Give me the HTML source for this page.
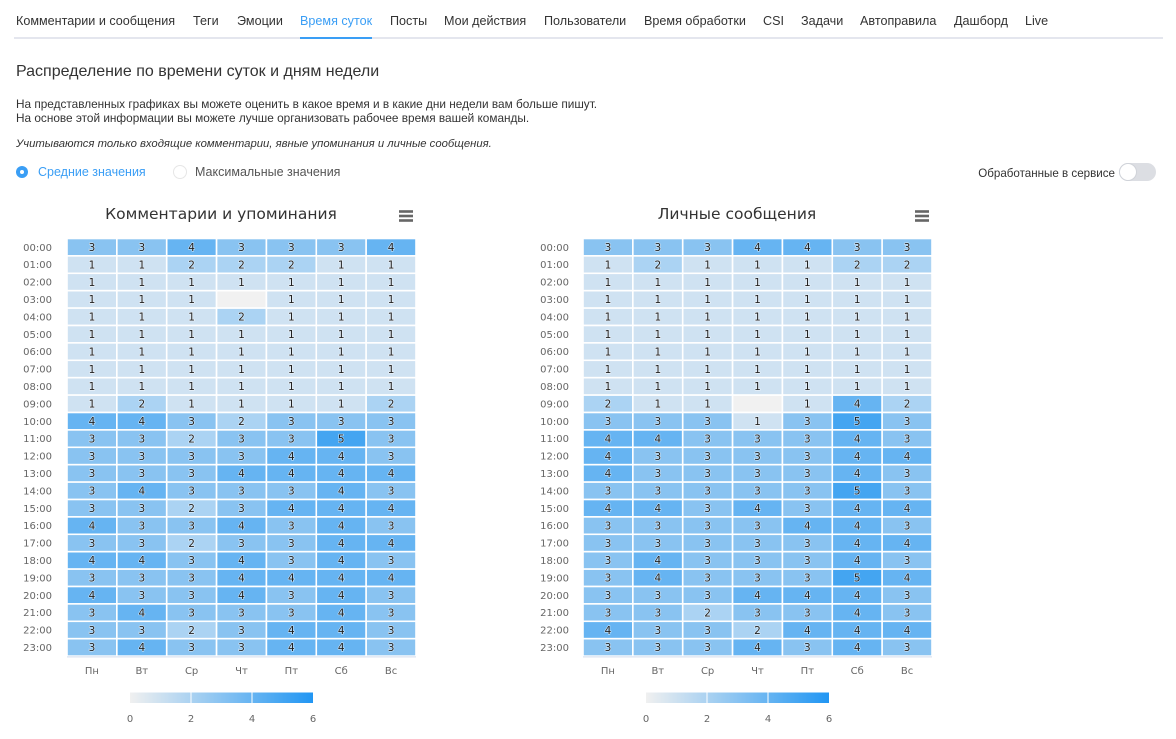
<!DOCTYPE html>
<html><head><meta charset="utf-8">
<style>
html,body{margin:0;padding:0;background:#fff;}
body{width:1176px;height:739px;position:relative;overflow:hidden;font-family:"Liberation Sans","Noto Sans CJK JP",sans-serif;color:#333;}
.n{position:absolute;top:13px;font-size:12.6px;line-height:16px;color:#333;white-space:nowrap;}
.n.a{color:#3a9ef5;}
.abs{position:absolute;white-space:nowrap;}
svg{position:absolute;left:0;top:0;}
.g rect{width:49.86px;height:17.4px;stroke:#fff;stroke-width:1.6px;}
.c1{fill:#cfe2f2}.c2{fill:#abd3f3}.c3{fill:#89c3f1}.c4{fill:#66b4f2}.c5{fill:#44a5f1}.cn{fill:#f1f1f1}
.v{font-family:"DejaVu Sans",sans-serif;font-size:10.5px;fill:#222;text-anchor:middle;stroke:#fff;stroke-width:1.2px;paint-order:stroke;stroke-opacity:.6;white-space:pre;}
.yl{font-family:"DejaVu Sans",sans-serif;font-size:10px;fill:#666;text-anchor:end;}
.xl{font-family:"DejaVu Sans",sans-serif;font-size:10px;fill:#666;text-anchor:middle;}
.tt{font-family:"DejaVu Sans",sans-serif;font-size:15.5px;fill:#333;text-anchor:middle;}
</style></head><body>
<div class="n" style="left:16px">Комментарии и сообщения</div>
<div class="n" style="left:193px">Теги</div>
<div class="n" style="left:237px">Эмоции</div>
<div class="n a" style="left:300px">Время суток</div>
<div class="n" style="left:390px">Посты</div>
<div class="n" style="left:444px">Мои действия</div>
<div class="n" style="left:544px">Пользователи</div>
<div class="n" style="left:644px">Время обработки</div>
<div class="n" style="left:763px">CSI</div>
<div class="n" style="left:801px">Задачи</div>
<div class="n" style="left:860px">Автоправила</div>
<div class="n" style="left:954px">Дашборд</div>
<div class="n" style="left:1025px">Live</div>
<div class="abs" style="left:14px;top:37px;width:1149px;height:2px;background:#e4e6ee"></div>
<div class="abs" style="left:300px;top:37px;width:72px;height:2px;background:#3a9ef5"></div>

<div class="abs" style="left:16px;top:62px;font-size:16px;line-height:20px;color:#333">Распределение по времени суток и дням недели</div>
<div class="abs" style="left:16px;top:97px;font-size:11.8px;line-height:14px;color:#333">На представленных графиках вы можете оценить в какое время и в какие дни недели вам больше пишут.<br>На основе этой информации вы можете лучше организовать рабочее время вашей команды.</div>
<div class="abs" style="left:16px;top:137px;font-size:11.3px;line-height:14px;color:#333;font-style:italic">Учитываются только входящие комментарии, явные упоминания и личные сообщения.</div>

<div class="abs" style="left:16px;top:166px;width:12px;height:12px;border-radius:50%;background:#3a9ef5"></div>
<div class="abs" style="left:20px;top:170px;width:4px;height:4px;border-radius:50%;background:#fff"></div>
<div class="abs" style="left:38px;top:164px;font-size:12.5px;line-height:16px;color:#3a9ef5">Средние значения</div>
<div class="abs" style="left:173px;top:165px;width:12px;height:12px;border-radius:50%;border:1px solid #e6e6e6;background:#fff"></div>
<div class="abs" style="left:195px;top:164px;font-size:12.5px;line-height:16px;color:#555">Максимальные значения</div>

<div class="abs" style="right:61px;top:166px;font-size:11.6px;line-height:16px;color:#333">Обработанные в сервисе</div>
<div class="abs" style="left:1119px;top:163px;width:37px;height:18px;border-radius:9px;background:#dcdee3"></div>
<div class="abs" style="left:1119px;top:163px;width:16px;height:16px;border-radius:50%;background:#fff;border:1px solid #d0d3d9"></div>

<svg width="1176" height="739" viewBox="0 0 1176 739">
<defs>
<linearGradient id="lg" x1="0" x2="1" y1="0" y2="0"><stop offset="0" stop-color="#f0f0f0"/><stop offset="1" stop-color="#2196f3"/></linearGradient>
</defs>
<!-- Chart 1 -->
<g transform="translate(67,238.5)">
<text class="tt" x="154" y="-19.5">Комментарии и упоминания</text>
<g stroke="#666" stroke-width="2.6"><line x1="332" x2="346" y1="-27" y2="-27"/><line x1="332" x2="346" y1="-22.5" y2="-22.5"/><line x1="332" x2="346" y1="-18" y2="-18"/></g>
<g class="yl">
<text x="-15" y="12.3">00:00</text><text x="-15" y="29.7">01:00</text><text x="-15" y="47.1">02:00</text><text x="-15" y="64.5">03:00</text><text x="-15" y="81.9">04:00</text><text x="-15" y="99.3">05:00</text><text x="-15" y="116.7">06:00</text><text x="-15" y="134.1">07:00</text><text x="-15" y="151.5">08:00</text><text x="-15" y="168.9">09:00</text><text x="-15" y="186.3">10:00</text><text x="-15" y="203.7">11:00</text><text x="-15" y="221.1">12:00</text><text x="-15" y="238.5">13:00</text><text x="-15" y="255.9">14:00</text><text x="-15" y="273.3">15:00</text><text x="-15" y="290.7">16:00</text><text x="-15" y="308.1">17:00</text><text x="-15" y="325.5">18:00</text><text x="-15" y="342.9">19:00</text><text x="-15" y="360.3">20:00</text><text x="-15" y="377.7">21:00</text><text x="-15" y="395.1">22:00</text><text x="-15" y="412.5">23:00</text>
</g>
<g class="g">
<g transform="translate(0,0)"><rect x="0" class="c3"/><rect x="49.86" class="c3"/><rect x="99.71" class="c4"/><rect x="149.57" class="c3"/><rect x="199.43" class="c3"/><rect x="249.29" class="c3"/><rect x="299.14" class="c4"/><text class="v" x="24.93 74.79 124.64 174.5 224.36 274.21 324.07" y="12.5">3343334</text></g>
<g transform="translate(0,17.4)"><rect x="0" class="c1"/><rect x="49.86" class="c1"/><rect x="99.71" class="c2"/><rect x="149.57" class="c2"/><rect x="199.43" class="c2"/><rect x="249.29" class="c1"/><rect x="299.14" class="c1"/><text class="v" x="24.93 74.79 124.64 174.5 224.36 274.21 324.07" y="12.5">1122211</text></g>
<g transform="translate(0,34.8)"><rect x="0" class="c1"/><rect x="49.86" class="c1"/><rect x="99.71" class="c1"/><rect x="149.57" class="c1"/><rect x="199.43" class="c1"/><rect x="249.29" class="c1"/><rect x="299.14" class="c1"/><text class="v" x="24.93 74.79 124.64 174.5 224.36 274.21 324.07" y="12.5">1111111</text></g>
<g transform="translate(0,52.2)"><rect x="0" class="c1"/><rect x="49.86" class="c1"/><rect x="99.71" class="c1"/><rect x="149.57" class="cn"/><rect x="199.43" class="c1"/><rect x="249.29" class="c1"/><rect x="299.14" class="c1"/><text class="v" x="24.93 74.79 124.64 174.5 224.36 274.21 324.07" y="12.5">111 111</text></g>
<g transform="translate(0,69.6)"><rect x="0" class="c1"/><rect x="49.86" class="c1"/><rect x="99.71" class="c1"/><rect x="149.57" class="c2"/><rect x="199.43" class="c1"/><rect x="249.29" class="c1"/><rect x="299.14" class="c1"/><text class="v" x="24.93 74.79 124.64 174.5 224.36 274.21 324.07" y="12.5">1112111</text></g>
<g transform="translate(0,87)"><rect x="0" class="c1"/><rect x="49.86" class="c1"/><rect x="99.71" class="c1"/><rect x="149.57" class="c1"/><rect x="199.43" class="c1"/><rect x="249.29" class="c1"/><rect x="299.14" class="c1"/><text class="v" x="24.93 74.79 124.64 174.5 224.36 274.21 324.07" y="12.5">1111111</text></g>
<g transform="translate(0,104.4)"><rect x="0" class="c1"/><rect x="49.86" class="c1"/><rect x="99.71" class="c1"/><rect x="149.57" class="c1"/><rect x="199.43" class="c1"/><rect x="249.29" class="c1"/><rect x="299.14" class="c1"/><text class="v" x="24.93 74.79 124.64 174.5 224.36 274.21 324.07" y="12.5">1111111</text></g>
<g transform="translate(0,121.8)"><rect x="0" class="c1"/><rect x="49.86" class="c1"/><rect x="99.71" class="c1"/><rect x="149.57" class="c1"/><rect x="199.43" class="c1"/><rect x="249.29" class="c1"/><rect x="299.14" class="c1"/><text class="v" x="24.93 74.79 124.64 174.5 224.36 274.21 324.07" y="12.5">1111111</text></g>
<g transform="translate(0,139.2)"><rect x="0" class="c1"/><rect x="49.86" class="c1"/><rect x="99.71" class="c1"/><rect x="149.57" class="c1"/><rect x="199.43" class="c1"/><rect x="249.29" class="c1"/><rect x="299.14" class="c1"/><text class="v" x="24.93 74.79 124.64 174.5 224.36 274.21 324.07" y="12.5">1111111</text></g>
<g transform="translate(0,156.6)"><rect x="0" class="c1"/><rect x="49.86" class="c2"/><rect x="99.71" class="c1"/><rect x="149.57" class="c1"/><rect x="199.43" class="c1"/><rect x="249.29" class="c1"/><rect x="299.14" class="c2"/><text class="v" x="24.93 74.79 124.64 174.5 224.36 274.21 324.07" y="12.5">1211112</text></g>
<g transform="translate(0,174)"><rect x="0" class="c4"/><rect x="49.86" class="c4"/><rect x="99.71" class="c3"/><rect x="149.57" class="c2"/><rect x="199.43" class="c3"/><rect x="249.29" class="c3"/><rect x="299.14" class="c3"/><text class="v" x="24.93 74.79 124.64 174.5 224.36 274.21 324.07" y="12.5">4432333</text></g>
<g transform="translate(0,191.4)"><rect x="0" class="c3"/><rect x="49.86" class="c3"/><rect x="99.71" class="c2"/><rect x="149.57" class="c3"/><rect x="199.43" class="c3"/><rect x="249.29" class="c5"/><rect x="299.14" class="c3"/><text class="v" x="24.93 74.79 124.64 174.5 224.36 274.21 324.07" y="12.5">3323353</text></g>
<g transform="translate(0,208.8)"><rect x="0" class="c3"/><rect x="49.86" class="c3"/><rect x="99.71" class="c3"/><rect x="149.57" class="c3"/><rect x="199.43" class="c4"/><rect x="249.29" class="c4"/><rect x="299.14" class="c3"/><text class="v" x="24.93 74.79 124.64 174.5 224.36 274.21 324.07" y="12.5">3333443</text></g>
<g transform="translate(0,226.2)"><rect x="0" class="c3"/><rect x="49.86" class="c3"/><rect x="99.71" class="c3"/><rect x="149.57" class="c4"/><rect x="199.43" class="c4"/><rect x="249.29" class="c4"/><rect x="299.14" class="c4"/><text class="v" x="24.93 74.79 124.64 174.5 224.36 274.21 324.07" y="12.5">3334444</text></g>
<g transform="translate(0,243.6)"><rect x="0" class="c3"/><rect x="49.86" class="c4"/><rect x="99.71" class="c3"/><rect x="149.57" class="c3"/><rect x="199.43" class="c3"/><rect x="249.29" class="c4"/><rect x="299.14" class="c3"/><text class="v" x="24.93 74.79 124.64 174.5 224.36 274.21 324.07" y="12.5">3433343</text></g>
<g transform="translate(0,261)"><rect x="0" class="c3"/><rect x="49.86" class="c3"/><rect x="99.71" class="c2"/><rect x="149.57" class="c3"/><rect x="199.43" class="c4"/><rect x="249.29" class="c4"/><rect x="299.14" class="c4"/><text class="v" x="24.93 74.79 124.64 174.5 224.36 274.21 324.07" y="12.5">3323444</text></g>
<g transform="translate(0,278.4)"><rect x="0" class="c4"/><rect x="49.86" class="c3"/><rect x="99.71" class="c3"/><rect x="149.57" class="c4"/><rect x="199.43" class="c3"/><rect x="249.29" class="c4"/><rect x="299.14" class="c3"/><text class="v" x="24.93 74.79 124.64 174.5 224.36 274.21 324.07" y="12.5">4334343</text></g>
<g transform="translate(0,295.8)"><rect x="0" class="c3"/><rect x="49.86" class="c3"/><rect x="99.71" class="c2"/><rect x="149.57" class="c3"/><rect x="199.43" class="c3"/><rect x="249.29" class="c4"/><rect x="299.14" class="c4"/><text class="v" x="24.93 74.79 124.64 174.5 224.36 274.21 324.07" y="12.5">3323344</text></g>
<g transform="translate(0,313.2)"><rect x="0" class="c4"/><rect x="49.86" class="c4"/><rect x="99.71" class="c3"/><rect x="149.57" class="c4"/><rect x="199.43" class="c3"/><rect x="249.29" class="c4"/><rect x="299.14" class="c3"/><text class="v" x="24.93 74.79 124.64 174.5 224.36 274.21 324.07" y="12.5">4434343</text></g>
<g transform="translate(0,330.6)"><rect x="0" class="c3"/><rect x="49.86" class="c3"/><rect x="99.71" class="c3"/><rect x="149.57" class="c4"/><rect x="199.43" class="c4"/><rect x="249.29" class="c4"/><rect x="299.14" class="c4"/><text class="v" x="24.93 74.79 124.64 174.5 224.36 274.21 324.07" y="12.5">3334444</text></g>
<g transform="translate(0,348)"><rect x="0" class="c4"/><rect x="49.86" class="c3"/><rect x="99.71" class="c3"/><rect x="149.57" class="c4"/><rect x="199.43" class="c3"/><rect x="249.29" class="c4"/><rect x="299.14" class="c3"/><text class="v" x="24.93 74.79 124.64 174.5 224.36 274.21 324.07" y="12.5">4334343</text></g>
<g transform="translate(0,365.4)"><rect x="0" class="c3"/><rect x="49.86" class="c4"/><rect x="99.71" class="c3"/><rect x="149.57" class="c3"/><rect x="199.43" class="c3"/><rect x="249.29" class="c4"/><rect x="299.14" class="c3"/><text class="v" x="24.93 74.79 124.64 174.5 224.36 274.21 324.07" y="12.5">3433343</text></g>
<g transform="translate(0,382.8)"><rect x="0" class="c3"/><rect x="49.86" class="c3"/><rect x="99.71" class="c2"/><rect x="149.57" class="c3"/><rect x="199.43" class="c4"/><rect x="249.29" class="c4"/><rect x="299.14" class="c3"/><text class="v" x="24.93 74.79 124.64 174.5 224.36 274.21 324.07" y="12.5">3323443</text></g>
<g transform="translate(0,400.2)"><rect x="0" class="c3"/><rect x="49.86" class="c4"/><rect x="99.71" class="c3"/><rect x="149.57" class="c3"/><rect x="199.43" class="c4"/><rect x="249.29" class="c4"/><rect x="299.14" class="c3"/><text class="v" x="24.93 74.79 124.64 174.5 224.36 274.21 324.07" y="12.5">3433443</text></g>
</g>
<line x1="0" x2="349" y1="418.4" y2="418.4" stroke="#dbe3f0" stroke-width="1.2"/>
<g class="xl"><text x="24.93" y="435.5">Пн</text><text x="74.79" y="435.5">Вт</text><text x="124.64" y="435.5">Ср</text><text x="174.5" y="435.5">Чт</text><text x="224.36" y="435.5">Пт</text><text x="274.21" y="435.5">Сб</text><text x="324.07" y="435.5">Вс</text></g>
<rect x="63" y="454" width="183" height="10.5" fill="url(#lg)"/>
<line x1="124" x2="124" y1="454" y2="464.5" stroke="#fff" stroke-width="1"/><line x1="185" x2="185" y1="454" y2="464.5" stroke="#fff" stroke-width="1"/>
<g class="xl"><text x="63" y="483.5">0</text><text x="124" y="483.5">2</text><text x="185" y="483.5">4</text><text x="246" y="483.5">6</text></g>
</g>

<!-- Chart 2 -->
<g transform="translate(583,238.5)">
<text class="tt" x="154" y="-19.5">Личные сообщения</text>
<g stroke="#666" stroke-width="2.6"><line x1="332" x2="346" y1="-27" y2="-27"/><line x1="332" x2="346" y1="-22.5" y2="-22.5"/><line x1="332" x2="346" y1="-18" y2="-18"/></g>
<g class="yl">
<text x="-14" y="12.3">00:00</text><text x="-14" y="29.7">01:00</text><text x="-14" y="47.1">02:00</text><text x="-14" y="64.5">03:00</text><text x="-14" y="81.9">04:00</text><text x="-14" y="99.3">05:00</text><text x="-14" y="116.7">06:00</text><text x="-14" y="134.1">07:00</text><text x="-14" y="151.5">08:00</text><text x="-14" y="168.9">09:00</text><text x="-14" y="186.3">10:00</text><text x="-14" y="203.7">11:00</text><text x="-14" y="221.1">12:00</text><text x="-14" y="238.5">13:00</text><text x="-14" y="255.9">14:00</text><text x="-14" y="273.3">15:00</text><text x="-14" y="290.7">16:00</text><text x="-14" y="308.1">17:00</text><text x="-14" y="325.5">18:00</text><text x="-14" y="342.9">19:00</text><text x="-14" y="360.3">20:00</text><text x="-14" y="377.7">21:00</text><text x="-14" y="395.1">22:00</text><text x="-14" y="412.5">23:00</text>
</g>
<g class="g">
<g transform="translate(0,0)"><rect x="0" class="c3"/><rect x="49.86" class="c3"/><rect x="99.71" class="c3"/><rect x="149.57" class="c4"/><rect x="199.43" class="c4"/><rect x="249.29" class="c3"/><rect x="299.14" class="c3"/><text class="v" x="24.93 74.79 124.64 174.5 224.36 274.21 324.07" y="12.5">3334433</text></g>
<g transform="translate(0,17.4)"><rect x="0" class="c1"/><rect x="49.86" class="c2"/><rect x="99.71" class="c1"/><rect x="149.57" class="c1"/><rect x="199.43" class="c1"/><rect x="249.29" class="c2"/><rect x="299.14" class="c2"/><text class="v" x="24.93 74.79 124.64 174.5 224.36 274.21 324.07" y="12.5">1211122</text></g>
<g transform="translate(0,34.8)"><rect x="0" class="c1"/><rect x="49.86" class="c1"/><rect x="99.71" class="c1"/><rect x="149.57" class="c1"/><rect x="199.43" class="c1"/><rect x="249.29" class="c1"/><rect x="299.14" class="c1"/><text class="v" x="24.93 74.79 124.64 174.5 224.36 274.21 324.07" y="12.5">1111111</text></g>
<g transform="translate(0,52.2)"><rect x="0" class="c1"/><rect x="49.86" class="c1"/><rect x="99.71" class="c1"/><rect x="149.57" class="c1"/><rect x="199.43" class="c1"/><rect x="249.29" class="c1"/><rect x="299.14" class="c1"/><text class="v" x="24.93 74.79 124.64 174.5 224.36 274.21 324.07" y="12.5">1111111</text></g>
<g transform="translate(0,69.6)"><rect x="0" class="c1"/><rect x="49.86" class="c1"/><rect x="99.71" class="c1"/><rect x="149.57" class="c1"/><rect x="199.43" class="c1"/><rect x="249.29" class="c1"/><rect x="299.14" class="c1"/><text class="v" x="24.93 74.79 124.64 174.5 224.36 274.21 324.07" y="12.5">1111111</text></g>
<g transform="translate(0,87)"><rect x="0" class="c1"/><rect x="49.86" class="c1"/><rect x="99.71" class="c1"/><rect x="149.57" class="c1"/><rect x="199.43" class="c1"/><rect x="249.29" class="c1"/><rect x="299.14" class="c1"/><text class="v" x="24.93 74.79 124.64 174.5 224.36 274.21 324.07" y="12.5">1111111</text></g>
<g transform="translate(0,104.4)"><rect x="0" class="c1"/><rect x="49.86" class="c1"/><rect x="99.71" class="c1"/><rect x="149.57" class="c1"/><rect x="199.43" class="c1"/><rect x="249.29" class="c1"/><rect x="299.14" class="c1"/><text class="v" x="24.93 74.79 124.64 174.5 224.36 274.21 324.07" y="12.5">1111111</text></g>
<g transform="translate(0,121.8)"><rect x="0" class="c1"/><rect x="49.86" class="c1"/><rect x="99.71" class="c1"/><rect x="149.57" class="c1"/><rect x="199.43" class="c1"/><rect x="249.29" class="c1"/><rect x="299.14" class="c1"/><text class="v" x="24.93 74.79 124.64 174.5 224.36 274.21 324.07" y="12.5">1111111</text></g>
<g transform="translate(0,139.2)"><rect x="0" class="c1"/><rect x="49.86" class="c1"/><rect x="99.71" class="c1"/><rect x="149.57" class="c1"/><rect x="199.43" class="c1"/><rect x="249.29" class="c1"/><rect x="299.14" class="c1"/><text class="v" x="24.93 74.79 124.64 174.5 224.36 274.21 324.07" y="12.5">1111111</text></g>
<g transform="translate(0,156.6)"><rect x="0" class="c2"/><rect x="49.86" class="c1"/><rect x="99.71" class="c1"/><rect x="149.57" class="cn"/><rect x="199.43" class="c1"/><rect x="249.29" class="c4"/><rect x="299.14" class="c2"/><text class="v" x="24.93 74.79 124.64 174.5 224.36 274.21 324.07" y="12.5">211 142</text></g>
<g transform="translate(0,174)"><rect x="0" class="c3"/><rect x="49.86" class="c3"/><rect x="99.71" class="c3"/><rect x="149.57" class="c1"/><rect x="199.43" class="c3"/><rect x="249.29" class="c5"/><rect x="299.14" class="c3"/><text class="v" x="24.93 74.79 124.64 174.5 224.36 274.21 324.07" y="12.5">3331353</text></g>
<g transform="translate(0,191.4)"><rect x="0" class="c4"/><rect x="49.86" class="c4"/><rect x="99.71" class="c3"/><rect x="149.57" class="c3"/><rect x="199.43" class="c3"/><rect x="249.29" class="c4"/><rect x="299.14" class="c3"/><text class="v" x="24.93 74.79 124.64 174.5 224.36 274.21 324.07" y="12.5">4433343</text></g>
<g transform="translate(0,208.8)"><rect x="0" class="c4"/><rect x="49.86" class="c3"/><rect x="99.71" class="c3"/><rect x="149.57" class="c3"/><rect x="199.43" class="c3"/><rect x="249.29" class="c4"/><rect x="299.14" class="c4"/><text class="v" x="24.93 74.79 124.64 174.5 224.36 274.21 324.07" y="12.5">4333344</text></g>
<g transform="translate(0,226.2)"><rect x="0" class="c4"/><rect x="49.86" class="c3"/><rect x="99.71" class="c3"/><rect x="149.57" class="c3"/><rect x="199.43" class="c3"/><rect x="249.29" class="c4"/><rect x="299.14" class="c3"/><text class="v" x="24.93 74.79 124.64 174.5 224.36 274.21 324.07" y="12.5">4333343</text></g>
<g transform="translate(0,243.6)"><rect x="0" class="c3"/><rect x="49.86" class="c3"/><rect x="99.71" class="c3"/><rect x="149.57" class="c3"/><rect x="199.43" class="c3"/><rect x="249.29" class="c5"/><rect x="299.14" class="c3"/><text class="v" x="24.93 74.79 124.64 174.5 224.36 274.21 324.07" y="12.5">3333353</text></g>
<g transform="translate(0,261)"><rect x="0" class="c4"/><rect x="49.86" class="c4"/><rect x="99.71" class="c3"/><rect x="149.57" class="c4"/><rect x="199.43" class="c3"/><rect x="249.29" class="c4"/><rect x="299.14" class="c4"/><text class="v" x="24.93 74.79 124.64 174.5 224.36 274.21 324.07" y="12.5">4434344</text></g>
<g transform="translate(0,278.4)"><rect x="0" class="c3"/><rect x="49.86" class="c3"/><rect x="99.71" class="c3"/><rect x="149.57" class="c3"/><rect x="199.43" class="c4"/><rect x="249.29" class="c4"/><rect x="299.14" class="c3"/><text class="v" x="24.93 74.79 124.64 174.5 224.36 274.21 324.07" y="12.5">3333443</text></g>
<g transform="translate(0,295.8)"><rect x="0" class="c3"/><rect x="49.86" class="c3"/><rect x="99.71" class="c3"/><rect x="149.57" class="c3"/><rect x="199.43" class="c3"/><rect x="249.29" class="c4"/><rect x="299.14" class="c4"/><text class="v" x="24.93 74.79 124.64 174.5 224.36 274.21 324.07" y="12.5">3333344</text></g>
<g transform="translate(0,313.2)"><rect x="0" class="c3"/><rect x="49.86" class="c4"/><rect x="99.71" class="c3"/><rect x="149.57" class="c3"/><rect x="199.43" class="c3"/><rect x="249.29" class="c4"/><rect x="299.14" class="c3"/><text class="v" x="24.93 74.79 124.64 174.5 224.36 274.21 324.07" y="12.5">3433343</text></g>
<g transform="translate(0,330.6)"><rect x="0" class="c3"/><rect x="49.86" class="c4"/><rect x="99.71" class="c3"/><rect x="149.57" class="c3"/><rect x="199.43" class="c3"/><rect x="249.29" class="c5"/><rect x="299.14" class="c4"/><text class="v" x="24.93 74.79 124.64 174.5 224.36 274.21 324.07" y="12.5">3433354</text></g>
<g transform="translate(0,348)"><rect x="0" class="c3"/><rect x="49.86" class="c3"/><rect x="99.71" class="c3"/><rect x="149.57" class="c4"/><rect x="199.43" class="c4"/><rect x="249.29" class="c4"/><rect x="299.14" class="c3"/><text class="v" x="24.93 74.79 124.64 174.5 224.36 274.21 324.07" y="12.5">3334443</text></g>
<g transform="translate(0,365.4)"><rect x="0" class="c3"/><rect x="49.86" class="c3"/><rect x="99.71" class="c2"/><rect x="149.57" class="c3"/><rect x="199.43" class="c3"/><rect x="249.29" class="c4"/><rect x="299.14" class="c3"/><text class="v" x="24.93 74.79 124.64 174.5 224.36 274.21 324.07" y="12.5">3323343</text></g>
<g transform="translate(0,382.8)"><rect x="0" class="c4"/><rect x="49.86" class="c3"/><rect x="99.71" class="c3"/><rect x="149.57" class="c2"/><rect x="199.43" class="c4"/><rect x="249.29" class="c4"/><rect x="299.14" class="c4"/><text class="v" x="24.93 74.79 124.64 174.5 224.36 274.21 324.07" y="12.5">4332444</text></g>
<g transform="translate(0,400.2)"><rect x="0" class="c3"/><rect x="49.86" class="c3"/><rect x="99.71" class="c3"/><rect x="149.57" class="c4"/><rect x="199.43" class="c3"/><rect x="249.29" class="c4"/><rect x="299.14" class="c3"/><text class="v" x="24.93 74.79 124.64 174.5 224.36 274.21 324.07" y="12.5">3334343</text></g>
</g>
<line x1="0" x2="349" y1="418.4" y2="418.4" stroke="#dbe3f0" stroke-width="1.2"/>
<g class="xl"><text x="24.93" y="435.5">Пн</text><text x="74.79" y="435.5">Вт</text><text x="124.64" y="435.5">Ср</text><text x="174.5" y="435.5">Чт</text><text x="224.36" y="435.5">Пт</text><text x="274.21" y="435.5">Сб</text><text x="324.07" y="435.5">Вс</text></g>
<rect x="63" y="454" width="183" height="10.5" fill="url(#lg)"/>
<line x1="124" x2="124" y1="454" y2="464.5" stroke="#fff" stroke-width="1"/><line x1="185" x2="185" y1="454" y2="464.5" stroke="#fff" stroke-width="1"/>
<g class="xl"><text x="63" y="483.5">0</text><text x="124" y="483.5">2</text><text x="185" y="483.5">4</text><text x="246" y="483.5">6</text></g>
</g>
</svg>
</body></html>
